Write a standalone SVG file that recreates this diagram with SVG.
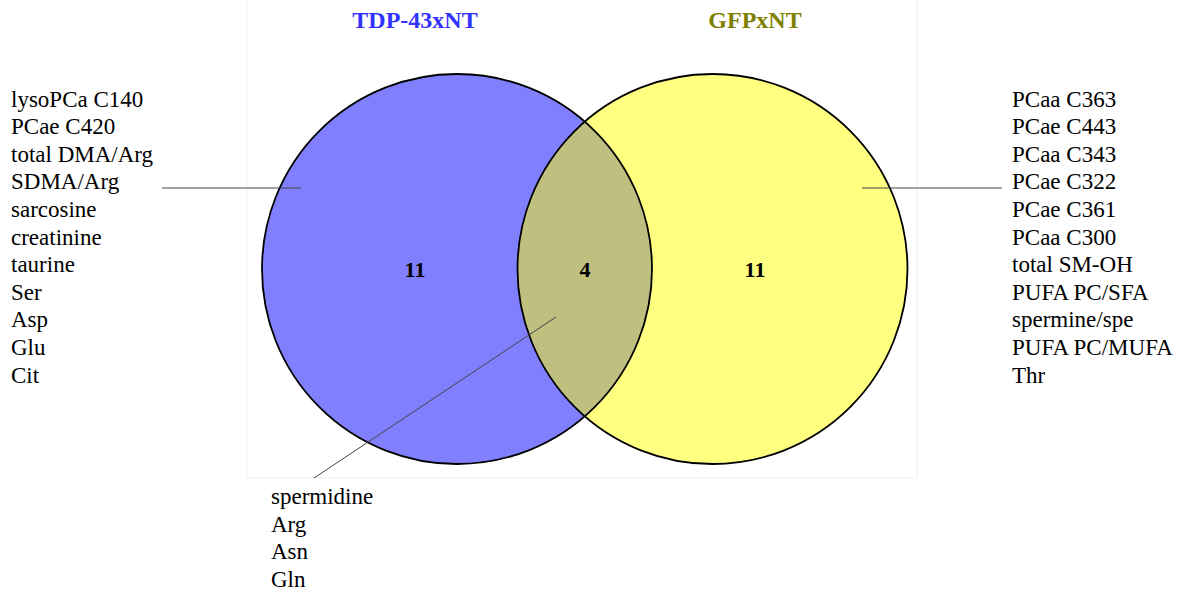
<svg xmlns="http://www.w3.org/2000/svg" width="1188" height="594" viewBox="0 0 1188 594">
<style>
.lbl{font-family:"Liberation Serif","Times New Roman",serif;font-size:23px;fill:#000}
.num{font-family:"Liberation Serif","Times New Roman",serif;font-size:22px;font-weight:bold;fill:#000;text-anchor:middle}
.ttl{font-family:"Liberation Serif","Times New Roman",serif;font-size:24px;font-weight:bold;text-anchor:middle}
.ring{fill:none;stroke:#000;stroke-width:1.8}
.lead{stroke:#444;stroke-width:1;fill:none}
</style>
<defs>
<clipPath id="clipL"><circle cx="457" cy="269" r="195"/></clipPath>
</defs>
<rect width="1188" height="594" fill="#fff"/>
<rect x="247" y="-1" width="670" height="479" fill="#fff" stroke="#f2f2f2" stroke-width="1"/>
<g id="setA">
<circle cx="457" cy="269" r="195" fill="#8080ff"/>
</g>
<g id="setB">
<circle cx="712.5" cy="269" r="195" fill="#ffff80"/>
</g>
<g id="overlap">
<circle cx="712.5" cy="269" r="195" fill="#bfbf80" clip-path="url(#clipL)"/>
</g>
<circle class="ring" cx="457" cy="269" r="195"/>
<circle class="ring" cx="712.5" cy="269" r="195"/>
<g id="titles">
<text class="ttl" x="415" y="28" fill="#3333ff">TDP-43xNT</text>
<text class="ttl" x="755" y="28" fill="#808000">GFPxNT</text>
</g>
<g id="counts">
<text class="num" x="415" y="277">11</text>
<text class="num" x="585" y="277">4</text>
<text class="num" x="755" y="277">11</text>
</g>
<g id="connectors">
<line class="lead" x1="162" y1="188" x2="301" y2="188"/>
<line class="lead" x1="862" y1="188" x2="1002" y2="188"/>
<line class="lead" x1="556" y1="317" x2="314" y2="478"/>
</g>
<g id="listA">
<text class="lbl" x="11" y="106.5">lysoPCa C140</text>
<text class="lbl" x="11" y="134.1">PCae C420</text>
<text class="lbl" x="11" y="161.7">total DMA/Arg</text>
<text class="lbl" x="11" y="189.3">SDMA/Arg</text>
<text class="lbl" x="11" y="216.9">sarcosine</text>
<text class="lbl" x="11" y="244.5">creatinine</text>
<text class="lbl" x="11" y="272.1">taurine</text>
<text class="lbl" x="11" y="299.7">Ser</text>
<text class="lbl" x="11" y="327.3">Asp</text>
<text class="lbl" x="11" y="354.9">Glu</text>
<text class="lbl" x="11" y="382.5">Cit</text>
</g>
<g id="listB">
<text class="lbl" x="1012" y="106.5">PCaa C363</text>
<text class="lbl" x="1012" y="134.1">PCae C443</text>
<text class="lbl" x="1012" y="161.7">PCaa C343</text>
<text class="lbl" x="1012" y="189.3">PCae C322</text>
<text class="lbl" x="1012" y="216.9">PCae C361</text>
<text class="lbl" x="1012" y="244.5">PCaa C300</text>
<text class="lbl" x="1012" y="272.1">total SM-OH</text>
<text class="lbl" x="1012" y="299.7">PUFA PC/SFA</text>
<text class="lbl" x="1012" y="327.3">spermine/spe</text>
<text class="lbl" x="1012" y="354.9">PUFA PC/MUFA</text>
<text class="lbl" x="1012" y="382.5">Thr</text>
</g>
<g id="listAB">
<text class="lbl" x="271" y="504.3">spermidine</text>
<text class="lbl" x="271" y="531.8">Arg</text>
<text class="lbl" x="271" y="559.3">Asn</text>
<text class="lbl" x="271" y="586.8">Gln</text>
</g>
</svg>
